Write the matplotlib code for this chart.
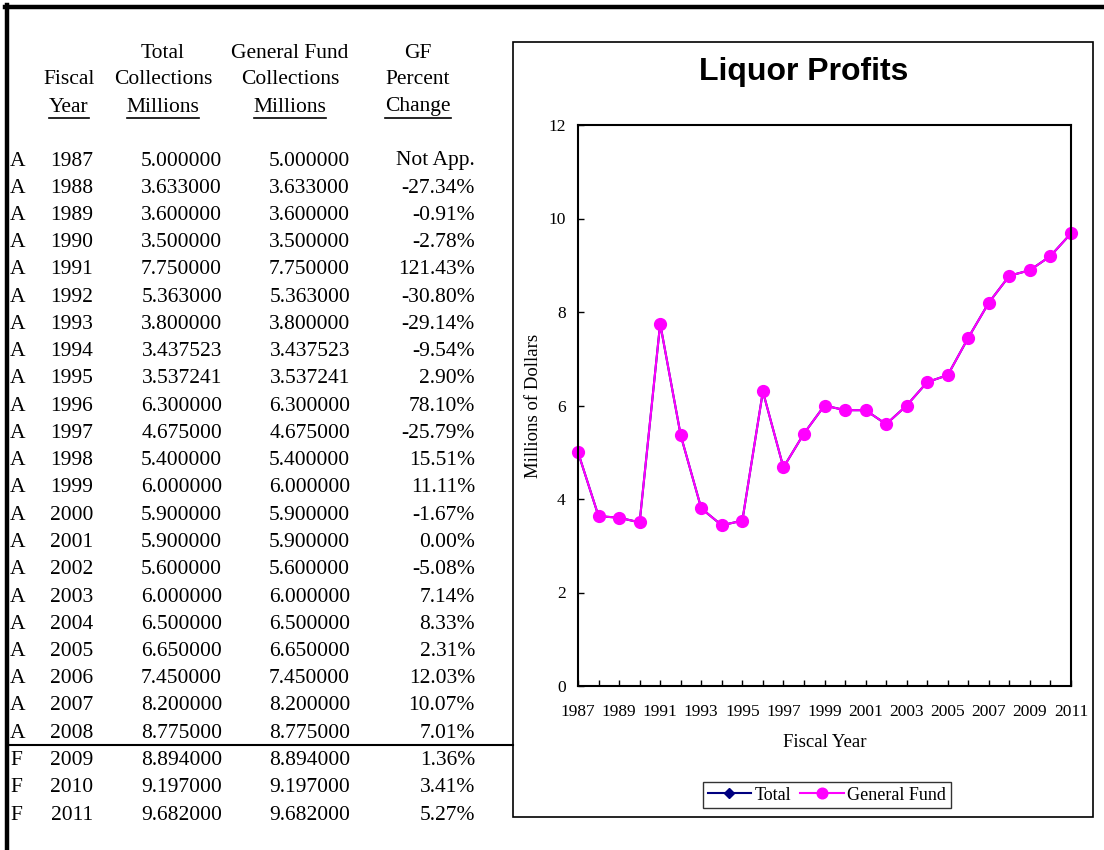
import matplotlib
matplotlib.use('Agg')
import matplotlib.pyplot as plt
from matplotlib.lines import Line2D
from matplotlib.patches import Rectangle

# data
status = ['A'] * 22 + ['F'] * 3
years = list(range(1987, 2012))
total = [5.000000, 3.633000, 3.600000, 3.500000, 7.750000, 5.363000, 3.800000,
         3.437523, 3.537241, 6.300000, 4.675000, 5.400000, 6.000000, 5.900000,
         5.900000, 5.600000, 6.000000, 6.500000, 6.650000, 7.450000, 8.200000,
         8.775000, 8.894000, 9.197000, 9.682000]
general_fund = list(total)
pct_change = ['Not App.', '-27.34%', '-0.91%', '-2.78%', '121.43%', '-30.80%',
              '-29.14%', '-9.54%', '2.90%', '78.10%', '-25.79%', '15.51%',
              '11.11%', '-1.67%', '0.00%', '-5.08%', '7.14%', '8.33%', '2.31%',
              '12.03%', '10.07%', '7.01%', '1.36%', '3.41%', '5.27%']

W, H = 1104, 850
plt.rcParams['font.family'] = ['Liberation Serif', 'DejaVu Serif']

fig = plt.figure(figsize=(W / 100, H / 100), dpi=100)


def fx(x):
    return x / W


def fy(y):
    return 1 - y / H


# thick page border (top and left)
fig.add_artist(Line2D([fx(5), fx(W)], [fy(7), fy(7)], color='black', lw=3.2))
fig.add_artist(Line2D([fx(7), fx(7)], [fy(5), fy(H)], color='black', lw=3.2))

# ---- table ----
fs = 15.5
heads = [(69, ['', 'Fiscal', 'Year']),
         (163, ['Total', 'Collections', 'Millions']),
         (290, ['General Fund', 'Collections', 'Millions']),
         (418, ['GF', 'Percent', 'Change'])]
under = []
for cx, lines in heads:
    for i, s in enumerate(lines):
        if not s:
            continue
        t = fig.text(fx(cx), fy(53 + i * 27), s, ha='center', va='center', fontsize=fs)
        if i == 2:
            under.append(t)

row0, dy = 161, 27.25
for i in range(len(years)):
    y = fy(row0 + i * dy)
    fig.text(fx(10), y, status[i], ha='left', va='center', fontsize=fs)
    fig.text(fx(72), y, str(years[i]), ha='center', va='center', fontsize=fs)
    fig.text(fx(222), y, f'{total[i]:.6f}', ha='right', va='center', fontsize=fs)
    fig.text(fx(350), y, f'{general_fund[i]:.6f}', ha='right', va='center', fontsize=fs)
    fig.text(fx(475), y, pct_change[i], ha='right', va='center', fontsize=fs)

# line between actual and forecast years
fig.add_artist(Line2D([fx(10), fx(513)], [fy(745), fy(745)], color='black', lw=1.5))

# ---- chart ----
fig.add_artist(Rectangle((fx(513), fy(817)), fx(1093) - fx(513), fy(42) - fy(817),
                         fill=False, edgecolor='black', lw=1.2))

ax = fig.add_axes([fx(578), fy(686), fx(1071) - fx(578), fy(125) - fy(686)])
ax.plot(years, total, color='#000080', marker='D', markersize=5.5, lw=1.5, label='Total')
ax.plot(years, general_fund, color='#FF00FF', marker='o', markersize=8.5, lw=1.5,
        label='General Fund', clip_on=False)
ax.set_xlim(1987, 2011)
ax.set_ylim(0, 12)
ax.set_xticks(years)
ax.set_xticklabels([str(y) if (y - 1987) % 2 == 0 else '' for y in years])
ax.set_yticks(range(0, 13, 2))
ax.tick_params(direction='in', length=4, width=1, labelsize=12.5, pad=9)
ax.tick_params(axis='x', pad=13)
for sp in ax.spines.values():
    sp.set_linewidth(1.5)
ax.set_xlabel('Fiscal Year', fontsize=13.5, labelpad=10)
ax.set_ylabel('Millions of Dollars', fontsize=13.5, labelpad=4)

fig.text(fx(804), fy(72), 'Liquor Profits', ha='center', va='center', fontsize=23,
         fontweight='bold', family='Liberation Sans')

leg = fig.legend(loc='center', bbox_to_anchor=(fx(827), fy(795)), ncol=2,
                 fontsize=13, frameon=True, fancybox=False, edgecolor='black',
                 handlelength=2.4, handletextpad=0.2, columnspacing=0.5,
                 borderpad=0.25, markerscale=0.9)
leg.get_frame().set_linewidth(1.0)

# underline header words
fig.canvas.draw()
r = fig.canvas.get_renderer()
for t in under:
    bb = t.get_window_extent(r)
    fig.add_artist(Line2D([bb.x0 / W, bb.x1 / W], [(bb.y0 - 1) / H, (bb.y0 - 1) / H],
                          color='black', lw=1.2))

fig.savefig('out.png', dpi=100)
